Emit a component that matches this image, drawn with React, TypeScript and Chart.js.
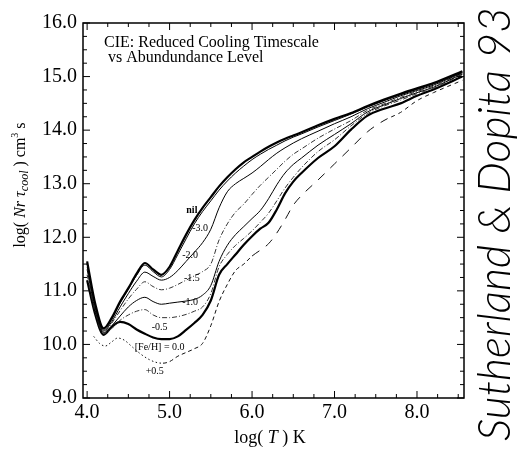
import React, { useEffect, useRef } from "react";
import { Chart, registerables } from "chart.js";

Chart.register(...registerables);

// log(T) grid shared by the abundance curves
const logT = [
  4.0, 4.1, 4.2, 4.3, 4.4, 4.5, 4.6, 4.7, 4.8, 4.9,
  5.0, 5.1, 5.2, 5.3, 5.4, 5.5, 5.6, 5.7, 5.8, 5.9,
  6.0, 6.1, 6.2, 6.3, 6.4, 6.5, 6.6,
  6.8, 7.0, 7.2, 7.4, 7.6, 7.8, 8.0, 8.2, 8.55,
];

const nilCurve = [
  11.55, 10.75, 10.3, 10.5, 10.8, 11.05, 11.32, 11.52, 11.4, 11.3,
  11.45, 11.75, 12.05, 12.32, 12.55, 12.75, 12.95, 13.12, 13.27, 13.4,
  13.5, 13.6, 13.69, 13.77, 13.84, 13.9, 13.96,
  14.09, 14.21, 14.32, 14.45, 14.57, 14.68, 14.78, 14.88, 15.1,
];
const feM30 = [
  11.52, 10.73, 10.27, 10.47, 10.77, 11.03, 11.29, 11.48, 11.36, 11.26,
  11.4, 11.68, 11.97, 12.25, 12.48, 12.68, 12.88, 13.05, 13.2, 13.33,
  13.45, 13.55, 13.64, 13.72, 13.8, 13.87, 13.93,
  14.06, 14.18, 14.3, 14.43, 14.55, 14.66, 14.76, 14.86, 15.08,
];
const feM20 = [
  11.5, 10.7, 10.25, 10.43, 10.7, 10.95, 11.18, 11.35, 11.27, 11.2,
  11.25, 11.38, 11.55, 11.72, 11.9, 12.15, 12.55, 12.85, 13.0, 13.1,
  13.2, 13.32, 13.45, 13.57, 13.67, 13.76, 13.84,
  13.98, 14.12, 14.25, 14.4, 14.52, 14.64, 14.74, 14.84, 15.07,
];
const feM15 = [
  11.45, 10.67, 10.23, 10.4, 10.63, 10.85, 11.03, 11.17, 11.08, 11.02,
  11.05, 11.12, 11.2, 11.28, 11.36, 11.5, 11.95, 12.25, 12.47, 12.62,
  12.8, 12.97, 13.12, 13.27, 13.42, 13.55, 13.65,
  13.85, 14.02, 14.18, 14.37, 14.49, 14.61, 14.72, 14.82, 15.06,
];
const feM10 = [
  11.4, 10.63, 10.22, 10.35, 10.53, 10.7, 10.82, 10.88, 10.8, 10.75,
  10.77, 10.79, 10.81, 10.84, 10.92, 11.1, 11.55, 11.85, 12.05, 12.2,
  12.35, 12.5, 12.72, 12.98, 13.2, 13.36, 13.48,
  13.72, 13.92, 14.12, 14.34, 14.47, 14.59, 14.7, 14.8, 15.05,
];
const feM05 = [
  11.3, 10.6, 10.2, 10.3, 10.45, 10.55, 10.62, 10.65, 10.55, 10.5,
  10.5, 10.52, 10.56, 10.62, 10.7, 10.95, 11.45, 11.68, 11.85, 11.98,
  12.12, 12.28, 12.45, 12.68, 12.92, 13.12, 13.3,
  13.6, 13.82, 14.08, 14.31, 14.45, 14.56, 14.68, 14.78, 15.04,
];
const fe00 = [
  11.2, 10.55, 10.18, 10.33, 10.42, 10.38, 10.28, 10.2, 10.13, 10.1,
  10.1, 10.15, 10.27, 10.4, 10.55, 10.82, 11.3, 11.5, 11.68, 11.86,
  12.02, 12.16, 12.27, 12.52, 12.82, 13.04, 13.2,
  13.48, 13.7, 14.01, 14.27, 14.4, 14.5, 14.64, 14.76, 15.0,
];

// [Fe/H] = +0.5 has its own sampling
const logTP05 = [
  4.08, 4.15, 4.22, 4.3, 4.37, 4.45, 4.55, 4.65, 4.75, 4.85,
  4.92, 5.0, 5.1, 5.2, 5.3, 5.4, 5.5, 5.6, 5.7, 5.8,
  5.9, 6.0, 6.1, 6.2, 6.3, 6.4, 6.5, 6.6, 6.8, 7.0,
  7.2, 7.4, 7.6, 7.8, 8.0, 8.2, 8.55,
];
const feP05 = [
  10.15, 10.02, 9.97, 10.05, 10.12, 10.08, 9.95, 9.82, 9.72, 9.66,
  9.65, 9.68, 9.78, 9.85, 9.92, 10.02, 10.35, 10.8, 11.12, 11.38,
  11.5, 11.65, 11.76, 11.88, 12.08, 12.33, 12.6, 12.78, 13.07, 13.37,
  13.67, 13.97, 14.18, 14.33, 14.55, 14.7, 14.93,
];

const xTickValues = [4, 5, 6, 7, 8];
const yTickValues = [9, 10, 11, 12, 13, 14, 15, 16];

const curveLabels = [
  { text: "nil", x: 5.27, y: 12.51, bold: true },
  { text: "-3.0", x: 5.37, y: 12.17, bold: false },
  { text: "-2.0", x: 5.25, y: 11.67, bold: false },
  { text: "-1.5", x: 5.27, y: 11.24, bold: false },
  { text: "-1.0", x: 5.25, y: 10.79, bold: false },
  { text: "-0.5", x: 4.88, y: 10.31, bold: false },
  { text: "[Fe/H] = 0.0", x: 4.88, y: 9.95, bold: false },
  { text: "+0.5", x: 4.82, y: 9.49, bold: false },
];

const titleLines = ["CIE: Reduced Cooling Timescale", " vs Abundundance Level"];
const creditText = "Sutherland & Dopita 93";

const pts = (xs: number[], ys: number[]) => xs.map((x, i) => ({ x, y: ys[i] }));

const serif = '"Liberation Serif", "Times New Roman", serif';

const decorPlugin = {
  id: "decor",
  afterDatasetsDraw(chart: any) {
    const { ctx, scales } = chart;
    const x = scales.x;
    const y = scales.y;
    ctx.save();
    ctx.fillStyle = "#000";
    ctx.textAlign = "center";
    ctx.textBaseline = "middle";
    for (const l of curveLabels) {
      ctx.font = `${l.bold ? "bold " : ""}10px ${serif}`;
      ctx.fillText(l.text, x.getPixelForValue(l.x), y.getPixelForValue(l.y));
    }
    ctx.restore();
  },
  afterDraw(chart: any) {
    const { ctx, chartArea: a, scales } = chart;
    const x = scales.x;
    const y = scales.y;
    ctx.save();
    ctx.strokeStyle = "#000";
    ctx.fillStyle = "#000";
    // frame
    ctx.lineWidth = 1.5;
    ctx.strokeRect(a.left, a.top, a.right - a.left, a.bottom - a.top);
    // inward ticks on all four sides
    ctx.lineWidth = 1;
    const line = (x0: number, y0: number, x1: number, y1: number) => {
      ctx.beginPath();
      ctx.moveTo(x0, y0);
      ctx.lineTo(x1, y1);
      ctx.stroke();
    };
    for (let i = 0; i <= 18; i++) {
      const v = 4 + i * 0.25;
      const px = x.getPixelForValue(v);
      if (px > a.right) break;
      const L = i % 4 === 0 ? 7 : 4;
      line(px, a.bottom, px, a.bottom - L);
      line(px, a.top, px, a.top + L);
    }
    for (let i = 0; i <= 28; i++) {
      const v = 9 + i * 0.25;
      const py = y.getPixelForValue(v);
      const L = i % 4 === 0 ? 7 : 4;
      line(a.left, py, a.left + L, py);
      line(a.right, py, a.right - L, py);
    }

    // chart title
    ctx.textAlign = "left";
    ctx.textBaseline = "alphabetic";
    ctx.font = `16px ${serif}`;
    ctx.fillText(titleLines[0], 104, 47);
    ctx.fillText(titleLines[1], 104, 62);

    // x axis title: log( T ) K
    const xParts = [
      { t: "log( ", f: `18px ${serif}` },
      { t: "T", f: `italic 18px ${serif}` },
      { t: " ) K", f: `18px ${serif}` },
    ];
    let total = 0;
    for (const p of xParts) { ctx.font = p.f; total += ctx.measureText(p.t).width; }
    let cx = 270 - total / 2;
    for (const p of xParts) { ctx.font = p.f; ctx.fillText(p.t, cx, 443); cx += ctx.measureText(p.t).width; }

    // y axis title (rotated)
    const yParts = [
      { t: "log( ", f: `16px ${serif}`, dy: 0 },
      { t: "Nr", f: `italic 16px ${serif}`, dy: 0 },
      { t: " \u03c4", f: `italic 16px ${serif}`, dy: 0 },
      { t: "cool", f: `italic 12px ${serif}`, dy: 3 },
      { t: " ) cm", f: `16px ${serif}`, dy: 0 },
      { t: "3", f: `10px ${serif}`, dy: -7 },
      { t: " s", f: `16px ${serif}`, dy: 0 },
    ];
    ctx.save();
    ctx.translate(25, 185);
    ctx.rotate(-Math.PI / 2);
    total = 0;
    for (const p of yParts) { ctx.font = p.f; total += ctx.measureText(p.t).width; }
    cx = -total / 2;
    for (const p of yParts) { ctx.font = p.f; ctx.fillText(p.t, cx, p.dy); cx += ctx.measureText(p.t).width; }
    ctx.restore();

    // credit on the right
    ctx.save();
    ctx.translate(510, 224);
    ctx.rotate(-Math.PI / 2);
    ctx.font = `italic 300 40px "Lato", "DejaVu Sans", sans-serif`;
    const w = ctx.measureText(creditText).width;
    const size = 40 * 434 / w;
    ctx.font = `italic 300 ${size}px "Lato", "DejaVu Sans", sans-serif`;
    ctx.textAlign = "center";
    ctx.fillText(creditText, 0, 0);
    ctx.restore();

    ctx.restore();
  },
};

export default function App() {
  const ref = useRef<HTMLCanvasElement | null>(null);
  useEffect(() => {
    document.body.style.margin = "0";
    const canvas = ref.current;
    if (!canvas) return;
    const thin = { borderColor: "#000", borderWidth: 1 };
    const dashDot = { borderColor: "#333", borderWidth: 1, borderDash: [5, 2, 1, 2] };
    const chart = new Chart(canvas, {
      type: "line",
      data: {
        datasets: [
          { label: "nil", data: pts(logT, nilCurve), borderColor: "#000", borderWidth: 2.2 },
          { label: "-3.0", data: pts(logT, feM30), ...thin },
          { label: "-2.0", data: pts(logT, feM20), ...thin },
          { label: "-1.5", data: pts(logT, feM15), ...dashDot },
          { label: "-1.0", data: pts(logT, feM10), ...thin },
          { label: "-0.5", data: pts(logT, feM05), ...dashDot },
          { label: "0.0", data: pts(logT, fe00), borderColor: "#000", borderWidth: 2.2 },
          {
            label: "+0.5",
            data: pts(logTP05, feP05),
            borderColor: "#111",
            borderWidth: 1,
            segment: {
              borderDash: (c: any) => {
                const x0 = c.p0.parsed.x;
                if (x0 < 4.9) return [1.5, 2.5];
                if (x0 < 6.0) return [4, 3];
                if (x0 < 7.6) return [9, 8];
                return [4, 4];
              },
            },
          },
        ] as any,
      },
      options: {
        animation: false,
        responsive: false,
        maintainAspectRatio: false,
        devicePixelRatio: 1,
        layout: { padding: { top: 23, right: 53, left: 0, bottom: 0 } },
        elements: {
          point: { radius: 0 },
          line: { tension: 0.4, cubicInterpolationMode: "monotone", fill: false },
        },
        plugins: {
          legend: { display: false },
          tooltip: { enabled: false },
          title: { display: false },
        },
        scales: {
          x: {
            type: "linear",
            min: 3.95,
            max: 8.57,
            grid: { display: false, drawTicks: false },
            border: { display: false },
            afterBuildTicks: (s: any) => { s.ticks = xTickValues.map((v) => ({ value: v })); },
            afterFit: (s: any) => { s.height = 51; },
            ticks: {
              callback: (v: any) => Number(v).toFixed(1),
              font: { family: serif, size: 20 },
              color: "#000",
              padding: 3,
              maxRotation: 0,
              autoSkip: false,
            },
          },
          y: {
            type: "linear",
            min: 9,
            max: 16,
            grid: { display: false, drawTicks: false },
            border: { display: false },
            afterBuildTicks: (s: any) => { s.ticks = yTickValues.map((v) => ({ value: v })); },
            afterFit: (s: any) => { s.width = 83; },
            ticks: {
              callback: (v: any) => Number(v).toFixed(1),
              font: { family: serif, size: 20 },
              color: "#000",
              padding: 6,
              autoSkip: false,
            },
          },
        },
      } as any,
      plugins: [decorPlugin],
    });
    return () => chart.destroy();
  }, []);
  return (
    <canvas
      ref={ref}
      width={517}
      height={449}
      style={{ display: "block", width: 517, height: 449, background: "#fff" }}
    />
  );
}
